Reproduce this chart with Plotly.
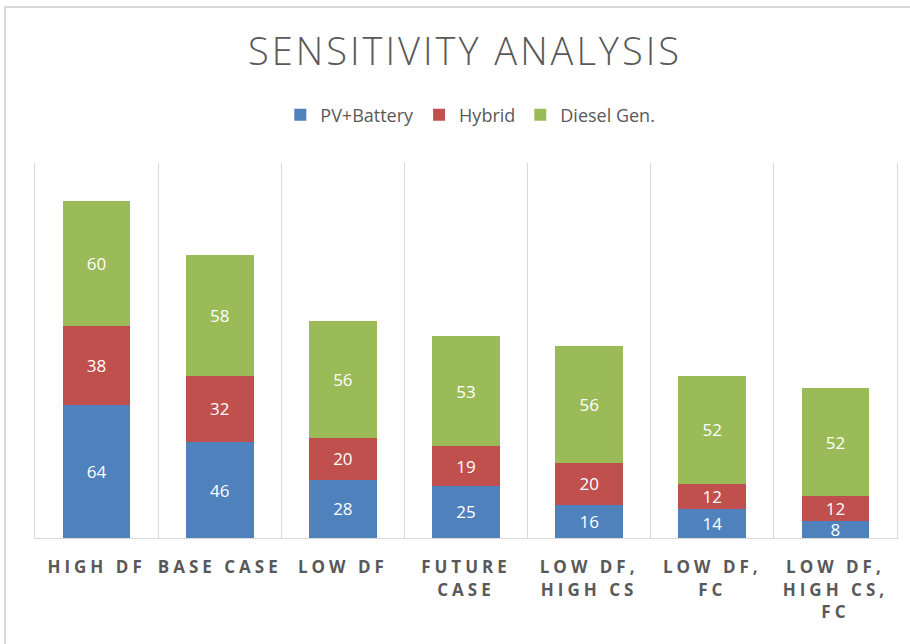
import plotly.graph_objects as go

categories = ["HIGH DF", "BASE CASE", "LOW DF", "FUTURE<br>CASE", "LOW DF,<br>HIGH CS", "LOW DF,<br>FC", "LOW DF,<br>HIGH CS,<br>FC"]
pv_battery = [64, 46, 28, 25, 16, 14, 8]
hybrid = [38, 32, 20, 19, 20, 12, 12]
diesel_gen = [60, 58, 56, 53, 56, 52, 52]
series_names = ["PV+Battery", "Hybrid", "Diesel Gen."]
colors = ["#4F81BD", "#C0504D", "#9BBB59"]

fig = go.Figure()
for name, vals, col in zip(series_names, [pv_battery, hybrid, diesel_gen], colors):
    fig.add_trace(go.Bar(
        x=categories, y=vals, name=name,
        marker=dict(color=col, line=dict(width=0)),
        text=[str(v) for v in vals],
        textposition="inside", insidetextanchor="middle", textangle=0,
        textfont=dict(color="white", size=17, family="Open Sans"),
        constraintext="none",
    ))

W, H = 910, 644
ml, mr, mt, mb = 35, 13, 163, 106
pw, ph = W - ml - mr, H - mt - mb

def px_x(p):
    return (p - ml) / pw

def px_y(p):
    return (H - mb - p) / ph

fig.update_layout(
    width=W, height=H,
    barmode="stack", bargap=0.45,
    paper_bgcolor="white", plot_bgcolor="white",
    margin=dict(l=ml, r=mr, t=mt, b=mb, pad=0),
    uniformtext=dict(minsize=17, mode="show"),
    title=dict(text="SENSITIVITY ANALYSIS", x=465 / W, xanchor="center", y=1 - 52 / H, yanchor="middle",
               yref="container", font=dict(family="Open Sans", size=38, color="#595959", weight=300)),
    legend=dict(orientation="h", x=0.505, xanchor="center", y=px_y(115), yanchor="middle",
                font=dict(family="Open Sans", size=18, color="#595959"), traceorder="normal",
                itemwidth=30),
    xaxis=dict(type="category", tickson="boundaries", showgrid=True, gridcolor="#d9d9d9", gridwidth=1,
               showline=True, linecolor="#d9d9d9", linewidth=1, ticks="", ticklabelstandoff=14,
               tickfont=dict(family="Open Sans", size=17, color="#595959", weight="bold"),
               range=[-0.5, 6.5]),
    yaxis=dict(range=[0, 180], showgrid=False, showticklabels=False, zeroline=False,
               showline=True, linecolor="#d9d9d9", linewidth=1, mirror=True, ticks=""),
    shapes=[dict(type="rect", xref="paper", yref="paper",
                 x0=px_x(5), x1=px_x(1000), y0=px_y(800), y1=px_y(7),
                 line=dict(color="#d9d9d9", width=2), fillcolor="rgba(0,0,0,0)", layer="below")],
    showlegend=True,
)

post = """
document.body.style.margin = '0';
document.body.style.padding = '0';
var gd = document.getElementById('{plot_id}');
function sp(){
  gd.querySelectorAll('.xtick text').forEach(function(t){ t.style.letterSpacing='4px'; });
  var tt = gd.querySelector('.gtitle'); if (tt) { tt.style.letterSpacing='3px'; }
}
sp();
if (gd.on) { gd.on('plotly_afterplot', sp); }
"""
fig.write_html("out.html", post_script=post, config={"displayModeBar": False})
